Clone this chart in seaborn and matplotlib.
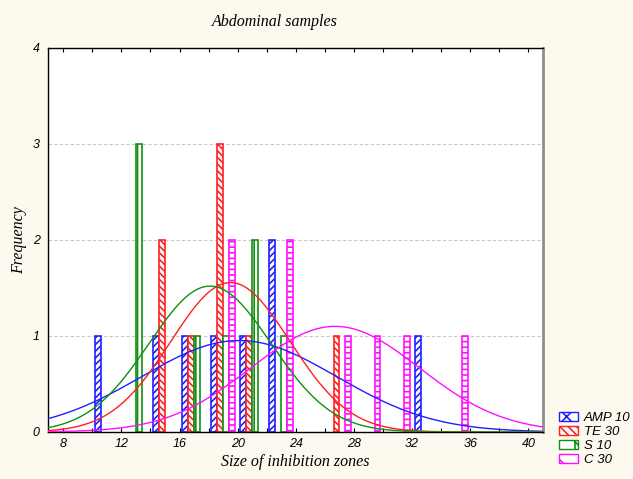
import numpy as np
import pandas as pd
import seaborn as sns
import matplotlib.pyplot as plt
from matplotlib.patches import Patch
from matplotlib.ticker import MultipleLocator

# Histogram counts per 2-unit bin (x = bin midpoint)
amp_bins = [11, 15, 17, 19, 21, 23, 33]
amp_counts = [1, 1, 1, 1, 1, 2, 1]
te_bins = [15, 17, 19, 21, 27]
te_counts = [2, 1, 3, 1, 1]
s_bins = [13, 17, 19, 21, 23]
s_counts = [3, 1, 1, 2, 1]
c_bins = [19, 23, 27, 29, 31, 35]
c_counts = [2, 2, 1, 1, 1, 1]

labels = ['AMP 10', 'TE 30', 'S 10', 'C 30']
colors = ['#2020ff', '#ff2020', '#109010', '#ff10ff']
hatches = ['/////', '\\\\\\\\\\', '||', '---']
legend_hatches = ['xx', '\\\\\\\\', '|\\', '\\']

# fitted normal curves (mean, sd)
fit_mean = [20.1, 19.5, 18.1, 26.7]
fit_sd = [6.7, 4.1, 4.2, 5.8]
n_obs = 8
bin_width = 2

bg = '#fdf9ee'
plt.rcParams['hatch.linewidth'] = 1.2

# Build long tables
bars = pd.concat([
    pd.DataFrame({'zone': b, 'count': c, 'drug': lab})
    for b, c, lab in zip([amp_bins, te_bins, s_bins, c_bins],
                         [amp_counts, te_counts, s_counts, c_counts], labels)
])

xmin, xmax = 6.95, 41.0
xs = np.linspace(xmin, xmax, 400)
curves = pd.concat([
    pd.DataFrame({'zone': xs,
                  'freq': n_obs * bin_width / (sd * np.sqrt(2 * np.pi))
                  * np.exp(-0.5 * ((xs - m) / sd) ** 2),
                  'drug': lab})
    for m, sd, lab in zip(fit_mean, fit_sd, labels)
])

pal = dict(zip(labels, colors))

fig = plt.figure(figsize=(6.33, 4.79), dpi=100, facecolor=bg)
ax = fig.add_axes([48 / 633, 1 - 432 / 479, (543 - 48) / 633, (432 - 48) / 479])
ax.set_facecolor('white')

sns.barplot(data=bars, x='zone', y='count', hue='drug', hue_order=labels,
            palette=pal, native_scale=True, dodge=True, width=0.82, gap=0,
            errorbar=None, legend=False, ax=ax)

for cont, col, h in zip(ax.containers, colors, hatches):
    for p in cont:
        p.set_facecolor('white')
        p.set_edgecolor(col)
        p.set_hatch(h)
        p.set_linewidth(1.2)
        p.set_zorder(2)

sns.lineplot(data=curves, x='zone', y='freq', hue='drug', hue_order=labels,
             palette=pal, linewidth=1.0, legend=False, ax=ax, zorder=3)

ax.set_xlim(xmin, xmax)
ax.set_ylim(0, 4)
ax.xaxis.set_major_locator(MultipleLocator(4))
ax.xaxis.set_minor_locator(MultipleLocator(2))
ax.yaxis.set_major_locator(MultipleLocator(1))
ax.set_axisbelow(True)
ax.yaxis.grid(True, color='#c8c8c8', linestyle=(0, (3, 2)), linewidth=0.8)
ax.xaxis.grid(False)

ax.tick_params(axis='x', which='both', direction='in', top=True, length=3,
               width=0.8, pad=4)
ax.tick_params(axis='y', which='both', direction='in', length=0, pad=6)
for lbl in ax.get_xticklabels() + ax.get_yticklabels():
    lbl.set_fontfamily('Liberation Sans')
    lbl.set_fontstyle('italic')
    lbl.set_fontsize(9)

for side in ['left', 'top', 'bottom']:
    ax.spines[side].set_color('black')
    ax.spines[side].set_linewidth(1.0)
ax.spines['right'].set_color('#909090')
ax.spines['right'].set_linewidth(2.0)

serif = dict(family='Liberation Serif', style='italic', fontsize=11.5)
ax.set_xlabel('Size of inhibition zones', labelpad=3, **serif)
ax.set_ylabel('Frequency', labelpad=4, **serif)
fig.text(275 / 633, 1 - 22 / 479, 'Abdominal samples', ha='center', va='center', **serif)

handles = [Patch(facecolor='white', edgecolor=c, hatch=h, linewidth=1.0)
           for c, h in zip(colors, legend_hatches)]
fig.legend(handles, labels, loc='upper left', bbox_to_anchor=(552 / 633, 1 - 405 / 479),
           frameon=False, borderpad=0, handlelength=1.5, handleheight=0.75,
           handletextpad=0.4, labelspacing=0.12,
           prop=dict(family='Liberation Sans', style='italic', size=9.5))

fig.savefig('out.png', dpi=100, facecolor=bg)
